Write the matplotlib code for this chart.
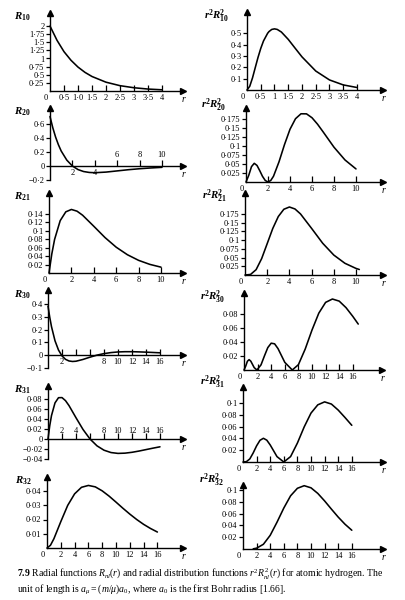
import matplotlib
matplotlib.use("Agg")
import matplotlib.pyplot as plt

plt.rcParams['font.family'] = ['Liberation Serif', 'DejaVu Serif']
plt.rcParams['mathtext.fontset'] = 'custom'
plt.rcParams['mathtext.rm'] = 'Liberation Serif'
plt.rcParams['mathtext.it'] = 'Liberation Serif:italic'
plt.rcParams['mathtext.bf'] = 'Liberation Serif:bold'
try:
    plt.rcParams['mathtext.bfit'] = 'Liberation Serif:bold:italic'
except Exception:
    pass

# ---------------- data ----------------
r_R10 = [0, 0.25, 0.5, 0.75, 1, 1.25, 1.5, 2, 2.5, 3, 3.5, 4]
R10 = [2.0, 1.56, 1.21, 0.945, 0.736, 0.573, 0.446, 0.271, 0.164, 0.100, 0.060, 0.037]

r_P10 = [0, 0.1, 0.2, 0.3, 0.4, 0.5, 0.6, 0.75, 0.8, 0.9, 1, 1.1, 1.25, 1.5, 1.75, 2, 2.5, 3, 3.5, 4]
P10 = [0, 0.033, 0.107, 0.198, 0.288, 0.368, 0.434, 0.502, 0.517, 0.536, 0.541, 0.536,
       0.513, 0.448, 0.370, 0.293, 0.168, 0.089, 0.045, 0.022]

r_R20 = [0, 0.25, 0.5, 0.75, 1, 1.5, 2, 2.5, 3, 3.5, 4, 5, 6, 7, 8, 9, 10]
R20 = [0.707, 0.546, 0.413, 0.304, 0.214, 0.084, 0.0, -0.051, -0.079, -0.092, -0.096,
       -0.087, -0.070, -0.053, -0.039, -0.028, -0.019]

r_P20 = [0, 0.25, 0.5, 0.75, 1, 1.25, 1.5, 1.75, 2, 2.25, 2.5, 3, 3.5, 4, 4.5, 5, 5.5, 6, 6.5, 7, 8, 9, 10]
P20 = [0, 0.0186, 0.0427, 0.0519, 0.046, 0.0315, 0.0157, 0.0042, 0.0, 0.0042, 0.016, 0.056,
       0.104, 0.1465, 0.1758, 0.1895, 0.1893, 0.1785, 0.1607, 0.1397, 0.0966, 0.0612, 0.0363]

r_R21 = [0, 0.25, 0.5, 1, 1.5, 2, 2.5, 3, 4, 5, 6, 7, 8, 9, 10]
R21 = [0, 0.045, 0.0795, 0.1238, 0.1446, 0.1502, 0.1462, 0.1366, 0.1105, 0.0838, 0.061,
       0.0432, 0.0299, 0.0204, 0.0138]

r_P21 = [0, 0.5, 1, 1.5, 2, 2.5, 3, 3.5, 4, 4.5, 5, 6, 7, 8, 9, 10, 10.3]
P21 = [0, 0.0016, 0.0153, 0.0471, 0.0902, 0.1336, 0.168, 0.1889, 0.1954, 0.1898, 0.1755,
       0.1339, 0.0912, 0.0573, 0.0337, 0.0189, 0.0158]

r_R30 = [0, 0.25, 0.5, 1, 1.5, 2, 2.5, 3, 3.5, 4, 5, 6, 7, 8, 9, 10, 11, 12, 13, 14, 15, 16]
R30 = [0.385, 0.297, 0.223, 0.112, 0.039, -0.007, -0.034, -0.047, -0.051, -0.049, -0.035,
       -0.017, -0.001, 0.011, 0.019, 0.024, 0.026, 0.026, 0.0245, 0.0224, 0.0199, 0.0173]

r_P30 = [0, 0.25, 0.5, 0.75, 1, 1.25, 1.5, 1.9, 2.5, 3, 3.5, 4, 4.5, 5, 6, 7.1, 8, 9, 10, 11, 12,
         13, 14, 15, 16, 16.8]
P30 = [0, 0.0055, 0.0125, 0.0148, 0.0126, 0.008, 0.0034, 0.0, 0.0073, 0.020, 0.032, 0.0383,
       0.0374, 0.0306, 0.0109, 0.0, 0.0076, 0.0299, 0.0571, 0.0812, 0.0966, 0.1014, 0.0984,
       0.0891, 0.0766, 0.0656]

r_R31 = [0, 0.25, 0.5, 1, 1.5, 2, 2.5, 3, 4, 5, 6, 7, 8, 9, 10, 11, 12, 13, 14, 15, 16]
R31 = [0, 0.0267, 0.0469, 0.0722, 0.0826, 0.0828, 0.0767, 0.0668, 0.0425, 0.0191, 0.0,
       -0.0137, -0.0224, -0.0271, -0.0288, -0.0283, -0.0266, -0.0241, -0.0212, -0.0183, -0.0156]

r_P31 = [0, 0.5, 1, 1.5, 2, 2.5, 3, 3.5, 4, 5, 6, 7, 8, 9, 10, 11, 12, 13, 14, 15, 16]
P31 = [0, 0.0006, 0.0052, 0.0154, 0.0274, 0.0368, 0.0402, 0.037, 0.0289, 0.0091, 0.0,
       0.0092, 0.0321, 0.0595, 0.0829, 0.0969, 0.1019, 0.0982, 0.088, 0.0754, 0.0622]

r_R32 = [0, 0.5, 1, 2, 3, 4, 5, 6, 7, 8, 9, 10, 11, 12, 13, 14, 15, 16]
R32 = [0, 0.0019, 0.0065, 0.0185, 0.0299, 0.038, 0.0426, 0.0439, 0.0429, 0.0401, 0.0364,
       0.0322, 0.0279, 0.0238, 0.020, 0.0166, 0.0137, 0.0112]

r_P32 = [1.5, 2, 3, 4, 5, 6, 7, 8, 9, 10, 11, 12, 13, 14, 15, 16]
P32 = [0.0003, 0.0014, 0.008, 0.0232, 0.0454, 0.0694, 0.0902, 0.1029, 0.1073, 0.1037,
       0.0942, 0.0815, 0.0676, 0.0541, 0.042, 0.0318]

# tick values and labels
xt_R10 = [0.5, 1.0, 1.5, 2, 2.5, 3, 3.5, 4]
xl_R10 = ['0·5', '1·0', '1·5', '2', '2·5', '3', '3·5', '4']
yt_R10 = [0.25, 0.5, 0.75, 1, 1.25, 1.5, 1.75, 2]
yl_R10 = ['0·25', '0·5', '0·75', '1', '1·25', '1·5', '1·75', '2']

xt_P10 = [0.5, 1.0, 1.5, 2, 2.5, 3, 3.5, 4]
xl_P10 = ['0·5', '1', '1·5', '2', '2·5', '3', '3·5', '4']
yt_P10 = [0.1, 0.2, 0.3, 0.4, 0.5]
yl_P10 = ['0·1', '0·2', '0·3', '0·4', '0·5']

xt_10 = [2, 4, 6, 8, 10]
xl_R20_below = ['2', '4', '', '', '']
xl_R20_above = ['', '', '6', '8', '10']
xl_10 = ['2', '4', '6', '8', '10']
yt_R20 = [-0.2, 0, 0.2, 0.4, 0.6]
yl_R20 = ['−0·2', '0', '0·2', '0·4', '0·6']
yt_P2 = [0.025, 0.05, 0.075, 0.1, 0.125, 0.15, 0.175]
yl_P2 = ['0·025', '0·05', '0·075', '0·1', '0·125', '0·15', '0·175']
yt_R21 = [0.02, 0.04, 0.06, 0.08, 0.1, 0.12, 0.14]
yl_R21 = ['0·02', '0·04', '0·06', '0·08', '0·1', '0·12', '0·14']

xt_16 = [2, 4, 6, 8, 10, 12, 14, 16]
xl_16 = ['2', '4', '6', '8', '10', '12', '14', '16']
xl_R30 = ['2', '', '', '8', '10', '12', '14', '16']
xl_R31 = ['2', '4', '', '8', '10', '12', '14', '16']
yt_R30 = [-0.1, 0, 0.1, 0.2, 0.3, 0.4]
yl_R30 = ['−0·1', '0', '0·1', '0·2', '0·3', '0·4']
yt_P30 = [0.02, 0.04, 0.06, 0.08]
yl_P30 = ['0·02', '0·04', '0·06', '0·08']
yt_R31 = [-0.04, -0.02, 0, 0.02, 0.04, 0.06, 0.08]
yl_R31 = ['−0·04', '−0·02', '0', '0·02', '0·04', '0·06', '0·08']
yt_P31 = [0.02, 0.04, 0.06, 0.08, 0.1]
yl_P31 = ['0·02', '0·04', '0·06', '0·08', '0·1']
yt_R32 = [0.01, 0.02, 0.03, 0.04]
yl_R32 = ['0·01', '0·02', '0·03', '0·04']

# ---------------- layout (pixels) ----------------
W, H = 406, 600
fig = plt.figure(figsize=(W / 100, H / 100), dpi=100)
fig.patch.set_facecolor('white')

FS = 6.0


def make_ax(x0, y0, sx, sy, top, right, ymin):
    bottom_px = y0 - ymin * sy
    ax = fig.add_axes([x0 / W, 1 - bottom_px / H, (right - x0) / W, (bottom_px - top) / H])
    ax.set_xlim(0, (right - x0) / sx)
    ax.set_ylim(ymin, (y0 - top) / sy)
    ax.patch.set_visible(False)
    for s in ('top', 'right'):
        ax.spines[s].set_visible(False)
    ax.spines['bottom'].set_position(('data', 0))
    ax.spines['left'].set_position(('data', 0))
    for s in ('bottom', 'left'):
        ax.spines[s].set_linewidth(1.0)
    ax.plot(1, 0, '>', color='k', ms=4, transform=ax.get_yaxis_transform(), clip_on=False)
    ax.plot(0, 1, '^', color='k', ms=4, transform=ax.get_xaxis_transform(), clip_on=False)
    ax.tick_params(axis='x', direction='in', length=4, width=0.9, labelsize=FS, pad=2)
    ax.tick_params(axis='y', direction='out', length=3, width=0.9, labelsize=FS, pad=1)
    ax.annotate('r', xy=(1, 0), xycoords=ax.get_yaxis_transform(), xytext=(0, -3),
                textcoords='offset points', ha='center', va='top', style='italic', fontsize=7)
    return ax


def origin0(ax):
    ax.annotate('0', xy=(0, 0), xytext=(-3, -2.5), textcoords='offset points',
                ha='center', va='top', fontsize=FS)


def title(px, py, s):
    fig.text(px / W, 1 - py / H, s, ha='center', va='center', fontsize=7.8)


def curve(ax, x, y):
    ax.plot(x, y, color='k', lw=1.15, clip_on=False, solid_capstyle='round',
            solid_joinstyle='round')


# Panel 1: R10
ax = make_ax(50, 91, 28, 32.5, 13, 183, 0)
curve(ax, r_R10, R10)
ax.set_xticks(xt_R10, xl_R10)
ax.set_yticks(yt_R10, yl_R10)
origin0(ax)
title(22, 17, r'$\mathbfit{R}_{\mathbf{10}}$')

# Panel 2: r^2 R10^2
ax = make_ax(247, 90, 27.5, 113, 12, 383, 0)
curve(ax, r_P10, P10)
ax.set_xticks(xt_P10, xl_P10)
ax.set_yticks(yt_P10, yl_P10)
origin0(ax)
title(216, 16, r'$\mathbfit{r}^{\mathbf{2}}\mathbfit{R}^{\mathbf{2}}_{\mathbf{10}}$')

# Panel 3: R20
ax = make_ax(50, 166, 11.2, 70, 108, 183, -0.2)
curve(ax, r_R20, R20)
ax.set_xticks(xt_10, xl_R20_below)
for xv, lb in zip(xt_10, xl_R20_above):
    if lb:
        ax.annotate(lb, xy=(xv, 0), xytext=(0, 5), textcoords='offset points',
                    ha='center', va='bottom', fontsize=FS)
ax.set_yticks(yt_R20, yl_R20)
title(22, 112, r'$\mathbfit{R}_{\mathbf{20}}$')

# Panel 4: r^2 R20^2
ax = make_ax(246, 182, 11.0, 360, 108, 383, 0)
curve(ax, r_P20, P20)
ax.set_xticks(xt_10, xl_10)
ax.set_yticks(yt_P2, yl_P2)
origin0(ax)
title(213, 105, r'$\mathbfit{r}^{\mathbf{2}}\mathbfit{R}^{\mathbf{2}}_{\mathbf{20}}$')

# Panel 5: R21
ax = make_ax(49, 273, 11.2, 423, 193, 183, 0)
curve(ax, r_R21, R21)
ax.set_xticks(xt_10, xl_10)
ax.set_yticks(yt_R21, yl_R21)
origin0(ax)
title(22, 197, r'$\mathbfit{R}_{\mathbf{21}}$')

# Panel 6: r^2 R21^2
ax = make_ax(245, 275, 11.1, 348, 193, 383, 0)
curve(ax, r_P21, P21)
ax.set_xticks(xt_10, xl_10)
ax.set_yticks(yt_P2, yl_P2)
origin0(ax)
title(214, 196, r'$\mathbfit{r}^{\mathbf{2}}\mathbfit{R}^{\mathbf{2}}_{\mathbf{21}}$')

# Panel 7: R30
ax = make_ax(48, 355, 7.0, 127, 290, 183, -0.1)
curve(ax, r_R30, R30)
ax.set_xticks(xt_16, xl_R30)
ax.set_yticks(yt_R30, yl_R30)
title(22, 295, r'$\mathbfit{R}_{\mathbf{30}}$')

# Panel 8: r^2 R30^2
ax = make_ax(244, 370, 6.8, 700, 293, 382, 0)
curve(ax, r_P30, P30)
ax.set_xticks(xt_16, xl_16)
ax.set_yticks(yt_P30, yl_P30)
origin0(ax)
title(212, 297, r'$\mathbfit{r}^{\mathbf{2}}\mathbfit{R}^{\mathbf{2}}_{\mathbf{30}}$')

# Panel 9: R31
ax = make_ax(48, 439, 7.0, 500, 386, 183, -0.04)
curve(ax, r_R31, R31)
ax.set_xticks(xt_16, [''] * len(xt_16))
for xv, lb in zip(xt_16, xl_R31):
    if lb:
        ax.annotate(lb, xy=(xv, 0), xytext=(0, 3), textcoords='offset points',
                    ha='center', va='bottom', fontsize=FS)
ax.set_yticks(yt_R31, yl_R31)
title(22, 390, r'$\mathbfit{R}_{\mathbf{31}}$')

# Panel 10: r^2 R31^2
ax = make_ax(243, 462, 6.8, 590, 387, 383, 0)
curve(ax, r_P31, P31)
ax.set_xticks(xt_16, xl_16)
ax.set_yticks(yt_P31, yl_P31)
origin0(ax)
title(212, 382, r'$\mathbfit{r}^{\mathbf{2}}\mathbfit{R}^{\mathbf{2}}_{\mathbf{31}}$')

# Panel 11: R32
ax = make_ax(47, 548, 6.9, 1425, 477, 183, 0)
curve(ax, r_R32, R32)
ax.set_xticks(xt_16, xl_16)
ax.set_yticks(yt_R32, yl_R32)
origin0(ax)
title(23, 481, r'$\mathbfit{R}_{\mathbf{32}}$')

# Panel 12: r^2 R32^2
ax = make_ax(243, 549, 6.8, 590, 485, 383, 0)
curve(ax, r_P32, P32)
ax.set_xticks(xt_16, xl_16)
ax.set_yticks(yt_P31, yl_P31)
origin0(ax)
title(212, 480, r'$\mathbfit{r}^{\mathbf{2}}\mathbfit{R}^{\mathbf{2}}_{\mathbf{32}}$')

# Caption
fig.text(17 / W, 1 - 574 / H,
         r'$\mathbf{7.9}$ Radial functions $R_{nl}(r)$ and radial distribution functions '
         r'$r^2R^2_{nl}(r)$ for atomic hydrogen. The',
         ha='left', va='center', fontsize=7.0)
fig.text(17 / W, 1 - 589 / H,
         r'unit of length is $a_\mu=(m/\mu)a_0$, where $a_0$ is the first Bohr radius [1.66].',
         ha='left', va='center', fontsize=7.0)

fig.savefig('out.png', dpi=100, facecolor='white')
